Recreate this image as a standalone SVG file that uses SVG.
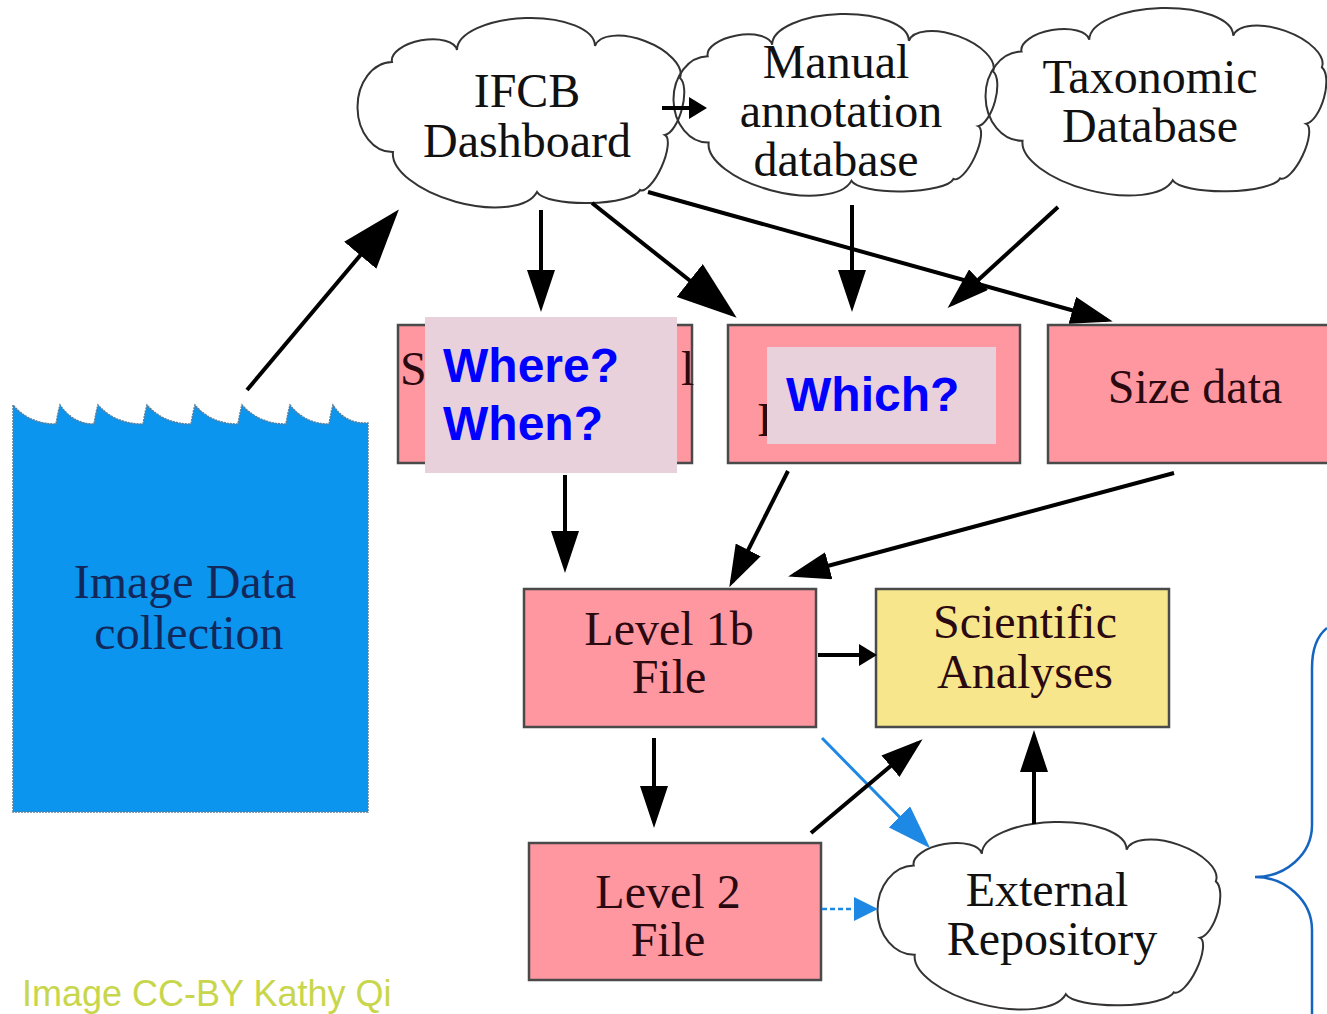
<svg xmlns="http://www.w3.org/2000/svg" width="1327" height="1014" viewBox="0 0 1327 1014">
<defs>
<style>
.box{fill:#FF97A1;stroke:#4a4a4a;stroke-width:2.5}
.sci{fill:#F8E68C;stroke:#4a4a4a;stroke-width:2.5}
.cloud{fill:none;stroke:#333;stroke-width:2}
.t{font-family:"Liberation Serif","Times New Roman",serif;font-size:48px;text-anchor:middle}
.tb{fill:#2a0a10}
.tc{fill:#111}
.tw{fill:#12285A}
.q{font-family:"Liberation Sans",Arial,sans-serif;font-weight:bold;font-size:48px;fill:#0000FF}
.ov{fill:#E9D1DC}
.ln{stroke:#000;stroke-width:4;fill:none}
.bl{stroke:#1E88E5;stroke-width:3;fill:none}
.bld{stroke:#1E88E5;stroke-width:2.5;fill:none;stroke-dasharray:5 3}
</style>
<marker id="big" markerUnits="userSpaceOnUse" viewBox="0 0 60 42" refX="54" refY="21" markerWidth="60" markerHeight="42" orient="auto"><path d="M0,0 L60,21 L0,42 Z" fill="#000"/></marker>
<marker id="med" markerUnits="userSpaceOnUse" viewBox="0 0 42 28" refX="36" refY="14" markerWidth="42" markerHeight="28" orient="auto"><path d="M0,0 L42,14 L0,28 Z" fill="#000"/></marker>
<marker id="small" markerUnits="userSpaceOnUse" viewBox="0 0 18 22" refX="12" refY="11" markerWidth="18" markerHeight="22" orient="auto"><path d="M0,0 L18,11 L0,22 Z" fill="#000"/></marker>
<marker id="blue" markerUnits="userSpaceOnUse" viewBox="0 0 44 30" refX="38" refY="15" markerWidth="44" markerHeight="30" orient="auto"><path d="M0,0 L44,15 L0,30 Z" fill="#1E88E5"/></marker>
<marker id="bluesm" markerUnits="userSpaceOnUse" viewBox="0 0 24 24" refX="18" refY="12" markerWidth="24" markerHeight="24" orient="auto"><path d="M0,0 L24,12 L0,24 Z" fill="#1E88E5"/></marker>
<path id="cloudShape" class="cloud" vector-effect="non-scaling-stroke" d="M393,152 A45,35 90 0 1 392,62 A33,16 -10 0 1 457,50 A69,30 -2 0 1 595,46 A45,22 21 0 1 680,78 A30,12 105 0 1 665,135 A30,10 114 0 1 640,190 A52,14 179 0 1 537,192 A75,34 195 0 1 393,152 Z"/>
</defs>
<rect width="1327" height="1014" fill="#fff"/>

<g id="water">
<path d="M13,812 L13,405 Q29,424 56,424 Q58,412 60,405 Q73,424 94,424 Q96,412 98,405 Q115,424 143,424 Q145,412 147,405 Q164,424 191,424 Q193,412 195,405 Q211,424 238,424 Q240,412 242,405 Q259,424 286,424 Q288,412 290,405 Q305,424 329,424 Q331,412 333,405 Q345,424 368,423 L368,812 Z" fill="#0B95EE" stroke="#5a7f9a" stroke-width="1.5" stroke-dasharray="2 1"/>
<text class="t tw" x="185" y="598">Image Data</text>
<text class="t tw" x="189" y="649">collection</text>
</g>

<g id="ifcb">
<use href="#cloudShape"/>
<text class="t tc" x="527" y="107">IFCB</text>
<text class="t tc" x="527" y="157">Dashboard</text>
</g>

<g id="manual">
<use href="#cloudShape" transform="translate(673,14) scale(0.991,0.959) translate(-357,-18)"/>
<text class="t tc" x="836" y="78">Manual</text>
<text class="t tc" x="841" y="127">annotation</text>
<text class="t tc" x="836" y="176">database</text>
</g>

<g id="taxonomic">
<use href="#cloudShape" transform="translate(985,8) scale(1.043,0.99) translate(-357,-18)"/>
<text class="t tc" x="1150" y="93">Taxonomic</text>
<text class="t tc" x="1150" y="142">Database</text>
</g>

<g id="boxA">
<rect class="box" x="398" y="325" width="294" height="138"/>
<text class="t tb" x="400" y="385" style="text-anchor:start">S</text>
<text class="t tb" x="681" y="385" style="text-anchor:start">l</text>
<rect class="ov" x="425" y="317" width="252" height="156"/>
<text class="q" x="443" y="382">Where?</text>
<text class="q" x="443" y="440">When?</text>
</g>

<g id="boxB">
<rect class="box" x="728" y="325" width="292" height="138"/>
<text class="t tb" x="757" y="436" style="text-anchor:start">I</text>
<rect class="ov" x="767" y="347" width="229" height="97"/>
<text class="q" x="786" y="411">Which?</text>
</g>

<g id="sizedata">
<rect class="box" x="1048" y="325" width="290" height="138"/>
<text class="t tb" x="1195" y="403">Size data</text>
</g>

<g id="level1b">
<rect class="box" x="524" y="589" width="292" height="138"/>
<text class="t tb" x="669" y="645">Level 1b</text>
<text class="t tb" x="669" y="693">File</text>
</g>

<g id="scientific">
<rect class="sci" x="876" y="589" width="293" height="138"/>
<text class="t tb" x="1025" y="638">Scientific</text>
<text class="t tb" x="1025" y="688">Analyses</text>
</g>

<g id="level2">
<rect class="box" x="529" y="843" width="292" height="137"/>
<text class="t tb" x="668" y="908">Level 2</text>
<text class="t tb" x="668" y="956">File</text>
</g>

<g id="external">
<use href="#cloudShape" transform="translate(877,822) scale(1.049,0.99) translate(-357,-18)"/>
<text class="t tc" x="1047" y="906">External</text>
<text class="t tc" x="1052" y="955">Repository</text>
</g>

<g id="connectors">
<line class="ln" x1="247" y1="390" x2="395" y2="214" marker-end="url(#big)"/>
<line class="ln" x1="662" y1="108" x2="701" y2="108" marker-end="url(#small)"/>
<line class="ln" x1="541" y1="210" x2="541" y2="306" marker-end="url(#med)"/>
<line class="ln" x1="592" y1="203" x2="732" y2="314" marker-end="url(#big)"/>
<line class="ln" x1="648" y1="192" x2="1107" y2="320" marker-end="url(#med)"/>
<line class="ln" x1="852" y1="205" x2="852" y2="306" marker-end="url(#med)"/>
<line class="ln" x1="1058" y1="207" x2="952" y2="304" marker-end="url(#med)"/>
<line class="ln" x1="565" y1="475" x2="565" y2="567" marker-end="url(#med)"/>
<line class="ln" x1="788" y1="471" x2="732" y2="582" marker-end="url(#med)"/>
<line class="ln" x1="1174" y1="473" x2="794" y2="575" marker-end="url(#med)"/>
<line class="ln" x1="818" y1="655" x2="871" y2="655" marker-end="url(#small)"/>
<line class="ln" x1="654" y1="738" x2="654" y2="822" marker-end="url(#med)"/>
<line class="bl" x1="822" y1="738" x2="926" y2="844" marker-end="url(#blue)"/>
<line class="ln" x1="811" y1="833" x2="918" y2="743" marker-end="url(#med)"/>
<line class="ln" x1="1034" y1="824" x2="1034" y2="736" marker-end="url(#med)"/>
<line class="bld" x1="822" y1="909" x2="872" y2="909" marker-end="url(#bluesm)"/>
</g>

<g id="brace">
<path d="M1327,628 C1317,636 1312,650 1312,668 L1312,825 C1312,855 1285,877 1255,877 C1285,877 1312,900 1312,930 L1312,1014" fill="none" stroke="#1565C0" stroke-width="2.5"/>
</g>

<text x="22" y="1006" font-family="'Liberation Sans',Arial,sans-serif" font-size="36" fill="#C8D64C">Image CC-BY Kathy Qi</text>
</svg>
